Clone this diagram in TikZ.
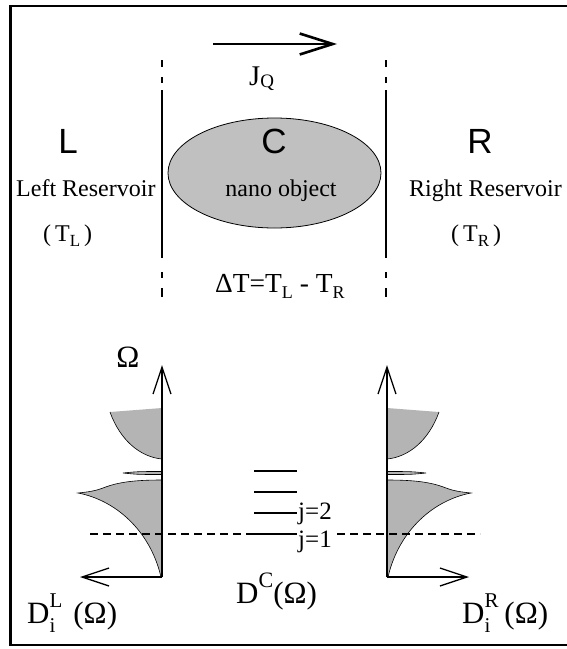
\documentclass[tikz,border=0pt]{standalone}
\usepackage{fontspec}
\setmainfont{Liberation Serif}
\newfontfamily\sansf{Liberation Sans}
\usetikzlibrary{arrows.meta,shapes.geometric}
\definecolor{ellgray}{RGB}{192,192,192}
\definecolor{lobegray}{RGB}{180,180,180}
\newcommand\lowr[2][16]{\raisebox{-0.22em}{\fontsize{#1}{#1}\selectfont #2}}
\begin{document}
\begin{tikzpicture}[x=1pt,y=-1pt,
  serif/.style={font=\fontsize{24}{28}\selectfont, inner sep=0pt},
  big/.style={font=\fontsize{31}{36}\selectfont, inner sep=0pt},
  mid/.style={font=\fontsize{27.5}{32}\selectfont, inner sep=0pt},
  sanslbl/.style={font=\sansf\fontsize{35}{40}\selectfont, inner sep=0pt},
  jlbl/.style={font=\fontsize{25}{28}\selectfont, inner sep=0pt, anchor=base west},
  wall/.style={line width=2.5pt},
  axis/.style={line width=1.3pt, -{Straight Barb[length=27pt,width=18pt,line width=1.3pt]}},
  lobe/.style={fill=lobegray, draw=none},
  lobeedge/.style={draw=black, line width=0.6pt},
  level/.style={line width=1.4pt},
]
\useasboundingbox (0,0) rectangle (566,649);
% frame
\draw[line width=2.6pt] (575,6) -- (10.5,6) -- (10.5,645) -- (575,645);

% heat current arrow
\coordinate (jq0) at (213,44);
\coordinate (jq1) at (337,44);
\draw[line width=2.6pt, -{Straight Barb[length=33pt,width=21pt,line width=2.6pt]}] (jq0) -- (jq1);
\node[font=\fontsize{28.5}{32}\selectfont, inner sep=0pt, anchor=base west] (jq) at (249,85) {J\raisebox{-0.08em}{\fontsize{19}{19}\selectfont Q}};

% walls
\foreach \xx in {162,386}{
  \draw[wall] (\xx,60) -- (\xx,67);
  \draw[wall] (\xx,77) -- (\xx,83);
  \draw[wall] (\xx,90) -- (\xx,258);
  \draw[wall] (\xx,272) -- (\xx,278);
  \draw[wall] (\xx,288) -- (\xx,297);
}

% nano object
\node[ellipse, draw=black, line width=0.8pt, fill=ellgray, minimum width=213pt, minimum height=110pt, inner sep=0pt] (ell) at (274.5,173) {};

\node[sanslbl, anchor=base] (Llbl) at (68,153) {L};
\node[sanslbl, anchor=base] (Clbl) at (274,153) {C};
\node[sanslbl, anchor=base] (Rlbl) at (480,153) {R};
\node[serif, anchor=base west] (lres) at (16,196) {Left Reservoir};
\node[serif, anchor=base] (nano) at (281,196) {nano object};
\node[serif, anchor=base west] (rres) at (409,196) {Right Reservoir};
\node[serif, anchor=base west] (tl) at (43,241) {(\,T\lowr[17]{L}\,)};
\node[serif, anchor=base west] (tr) at (451,241) {(\,T\lowr[17]{R}\,)};
\node[mid, anchor=base west] (dt) at (215,292) {ΔT=T\lowr[18]{L} - T\lowr[18]{R}};

% densities of states
\coordinate (OL) at (162,577);
\coordinate (OLy) at (162,365);
\coordinate (OLx) at (80,577);
\coordinate (OR) at (387,577);
\coordinate (ORy) at (387,365);
\coordinate (ORx) at (469,577);

\foreach \sh/\sc in {0/1,549/-1}{
\begin{scope}[shift={(\sh,0)}, xscale=\sc]
  % top band
  \path[lobe] (110,412) -- (162,408) -- (162,459) .. controls (140,457) and (120,440) .. (110,412) -- cycle;
  \draw[lobeedge] (162,459) .. controls (140,457) and (120,440) .. (110,412);
  % sliver
  \draw[lobeedge, fill=lobegray] (162,471.5) .. controls (138,471.5) .. (123,473) .. controls (138,474.5) .. (162,474.5);
  % lower band
  \path[lobe] (162,480) .. controls (135,480) and (118,482) .. (103,488) .. controls (95,491) and (88,492) .. (78,493) .. controls (115,500) and (150,530) .. (161,577) -- (162,577) -- cycle;
  \draw[lobeedge] (162,480) .. controls (135,480) and (118,482) .. (103,488) .. controls (95,491) and (88,492) .. (78,493) .. controls (115,500) and (150,530) .. (161,577);
\end{scope}
}

% Fermi level dashed line
\coordinate (fl0) at (90,534);
\coordinate (fl1) at (480,534);
\draw[line width=1.3pt, dash pattern=on 8pt off 5pt] (fl0) -- (fl1);

% axes
\draw[axis] (OL) -- (OLy);
\draw[axis] (OL) -- (OLx);
\draw[axis] (OR) -- (ORy);
\draw[axis] (OR) -- (ORx);
\node[big, anchor=base] (omg) at (128,367) {Ω};

% discrete levels
\foreach \yy in {471,492,513,534}{
  \draw[level] (254,\yy) -- (297,\yy);
}
\node[jlbl] (j2) at (298,519) {j=2};
\node[jlbl, fill=white] (j1) at (298,547) {j=1};

% labels
\node[big, anchor=base west] (dl) at (27,623) {D\rlap{\raisebox{0.5em}{\fontsize{21}{21}\selectfont L}}\raisebox{-0.3em}{\fontsize{21}{21}\selectfont i}\hphantom{\fontsize{21}{21}\selectfont L}\,(Ω)};
\node[big, anchor=base west] (dc) at (236,603) {D\raisebox{0.5em}{\fontsize{22}{22}\selectfont C}(Ω)};
\node[big, anchor=base west] (dr) at (462,623) {D\rlap{\raisebox{0.5em}{\fontsize{21}{21}\selectfont R}}\raisebox{-0.3em}{\fontsize{21}{21}\selectfont i}\hphantom{\fontsize{21}{21}\selectfont R}(Ω)};
\end{tikzpicture}
\end{document}
